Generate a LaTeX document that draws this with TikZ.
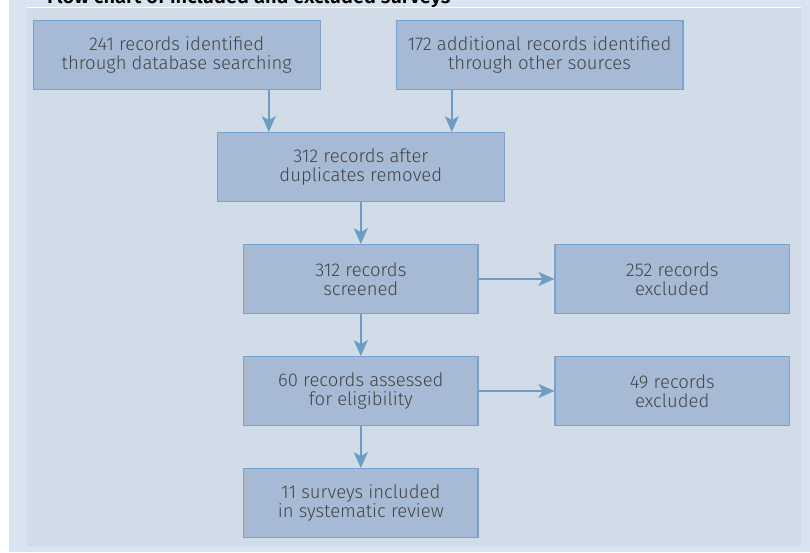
\documentclass[tikz,border=0pt]{standalone}
\usepackage{fontspec}
\setmainfont{Fira Sans}[UprightFont = * Light, BoldFont = * SemiBold]
\usetikzlibrary{arrows.meta}

\definecolor{outerbg}{HTML}{D8E4EF}
\definecolor{innerbg}{HTML}{D1DCE8}
\definecolor{boxfill}{HTML}{A6BAD6}
\definecolor{boxline}{HTML}{7BA3C9}
\definecolor{flowline}{HTML}{6F9CC4}
\definecolor{boxtext}{HTML}{444444}

\begin{document}
\begin{tikzpicture}[x=1pt, y=1pt, >=Stealth,
    stage/.style={draw=boxline, fill=boxfill, line width=1.2pt, text=boxtext,
      font=\fontsize{18.5}{19.5}\selectfont, align=center,
      minimum height=68.6pt, inner sep=0pt},
    wide/.style={stage, minimum width=286.8pt},
    narrow/.style={stage, minimum width=234.3pt},
    flow/.style={->, draw=flowline, line width=1.5pt,
      arrows={-Stealth[length=16pt, width=14pt, inset=4pt]}}]
    \useasboundingbox (0, 0) rectangle (810, -552);
    \fill[white] (0, 0) rectangle (810, -552);
    \fill[outerbg] (9, 0) rectangle (810, -552);
    \fill[innerbg] (27, -7) rectangle (801, -546);
    \draw[white, line width=1pt] (27, -7) -- (801, -7);
    \begin{scope}
      \clip (9, 0) rectangle (810, -6.5);
      \node[anchor=base west, inner sep=0pt, font=\fontsize{20}{22}\selectfont\bfseries] (title) at (47, -3) {Flow chart of included and excluded surveys};
    \end{scope}
    %% boxes
    \node[wide] (found) at (176.7, -55) {241 records identified\\through database searching};
    \node[wide] (other) at (539.5, -55) {172 additional records identified\\through other sources};
    \node[wide] (dedup) at (360.8, -167) {312 records after\\duplicates removed};
    \node[narrow] (screen) at (360.8, -279) {312 records\\screened};
    \node[narrow] (excl1) at (672.2, -279) {252 records\\excluded};
    \node[narrow] (elig) at (360.8, -391) {60 records assessed\\for eligibility};
    \node[narrow] (excl2) at (672.2, -391) {49 records\\excluded};
    \node[narrow] (incl) at (360.8, -503) {11 surveys included\\in systematic review};
    %% arrows
    \draw[flow] ([xshift=52pt]dedup.north west |- found.south) -- ([xshift=52pt]dedup.north west);
    \draw[flow] ([xshift=-53pt]dedup.north east |- other.south) -- ([xshift=-53pt]dedup.north east);
    \draw[flow] (dedup) -- (screen);
    \draw[flow] (screen) -- (excl1);
    \draw[flow] (screen) -- (elig);
    \draw[flow] (elig) -- (excl2);
    \draw[flow] (elig) -- (incl);
  \end{tikzpicture}
\end{document}
